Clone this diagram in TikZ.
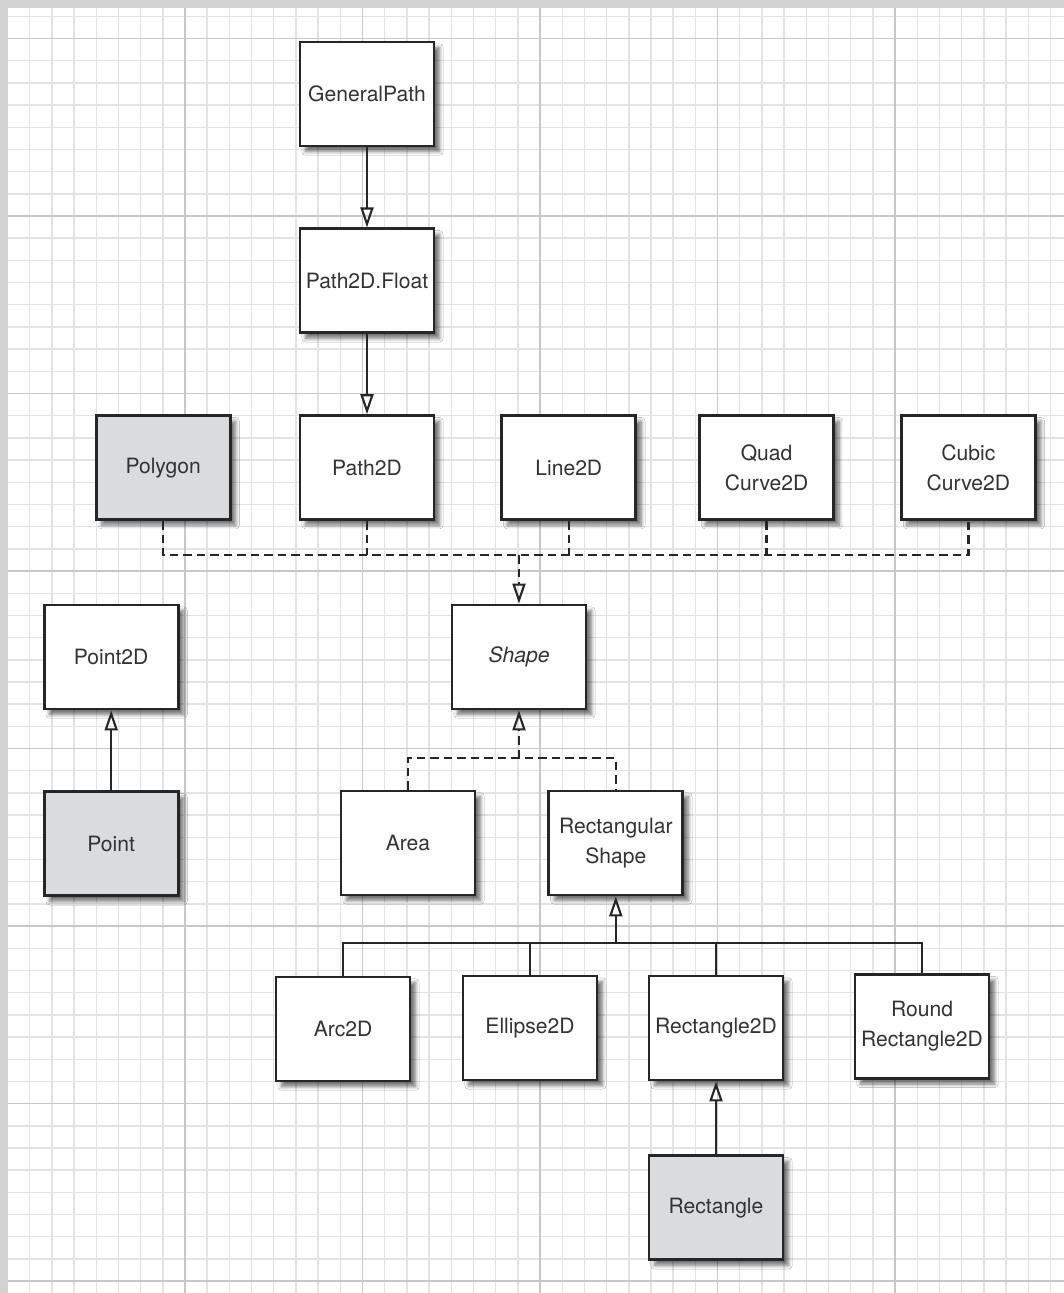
\documentclass[tikz,border=0pt]{standalone}
\usepackage{fontspec}
\setmainfont{TeX Gyre Heros}
\usetikzlibrary{positioning, arrows.meta, shadows.blur}
\definecolor{pagegrey}{HTML}{D2D2D2}
\definecolor{minorgrid}{HTML}{E3E3E3}
\definecolor{majorgrid}{HTML}{C8C8C8}
\definecolor{awtgrey}{HTML}{DADBDD}
\tikzstyle{box}=[draw=black!85, line width=1.6pt, fill=white, align=center,
                 text=black!80, font=\fontsize{12}{17}\selectfont,
                 minimum width=2.68cm, minimum height=2.08cm, inner sep=2pt,
                 blur shadow={shadow xshift=1.1mm, shadow yshift=-1.1mm,
                              shadow blur steps=8, shadow opacity=55}]
\tikzstyle{old}=[box, fill=awtgrey]
\tikzstyle{ln}=[line width=1.3pt, black!85]
\tikzstyle{dln}=[ln, dash pattern=on 1.7mm off 1mm]
\tikzstyle{ar}=[ln, -{Triangle[open, length=4mm, width=2.6mm, line width=1.2pt]}]
\tikzstyle{dar}=[ar, dash pattern=on 1.7mm off 1mm]

\begin{document}
\begin{tikzpicture}[node distance=1.6cm and 1.3cm]
    \useasboundingbox (0,0) rectangle (21.28,-25.86);
    % page and grid
    \fill[pagegrey] (0,0) rectangle (21.28,-25.86);
    \fill[white] (0.16,-0.16) rectangle (21.28,-25.86);
    \begin{scope}[shift={(3.70,-4.32)}]
      \draw[minorgrid, line width=0.8pt] (-3.54,-21.54) grid[step=0.4438cm] (17.58,4.16);
      \draw[majorgrid, line width=0.8pt] (-3.54,-21.54) grid[step=3.5504cm] (17.58,4.16);
    \end{scope}
    % upper chain
    \node[box] (gpath) at (7.34,-1.88) {GeneralPath};
    \node[box, below=of gpath] (pfloat) {Path2D.Float};
    \node[box, below=of pfloat] (ptwod) {Path2D};
    \node[old, left=1.34cm of ptwod] (polygon) {Polygon};
    \node[box, right=of ptwod] (line) {Line2D};
    \node[box, right=1.22cm of line] (quad) {Quad\\Curve2D};
    \node[box, right=of quad] (cubic) {Cubic\\Curve2D};
    % middle
    \node[box] (shape) at (10.38,-13.14) {\textit{Shape}};
    \node[box, left=5.42cm of shape] (ptwo) {Point2D};
    \node[old, below=of ptwo] (point) {Point};
    \node[box] (area) at (8.16,-16.86) {Area};
    \node[box, right=1.42cm of area] (rshape) {Rectangular\\Shape};
    % lower row
    \node[box] (arc) at (6.86,-20.58) {Arc2D};
    \node[box] (ellipse) at (10.6,-20.56) {Ellipse2D};
    \node[box] (rtwod) at (14.32,-20.56) {Rectangle2D};
    \node[box] (round) at (18.44,-20.53) {Round\\Rectangle2D};
    \node[old, below=1.46cm of rtwod] (rect) {Rectangle};
    % buses
    \coordinate (busa) at (0,-11.1);
    \coordinate (busb) at (0,-15.16);
    \coordinate (busc) at (0,-18.86);
    \draw[ar] (gpath) -- (pfloat);
    \draw[ar] (pfloat) -- (ptwod);
    \draw[dln] (polygon.south) -- (polygon.south |- busa) -- (cubic.south |- busa) -- (cubic.south);
    \draw[dln] (ptwod.south) -- (ptwod.south |- busa);
    \draw[dln] (line.south) -- (line.south |- busa);
    \draw[dln] (quad.south) -- (quad.south |- busa);
    \draw[dar] (shape.north |- busa) -- (shape.north);
    \draw[ar] (point) -- (ptwo);
    \draw[dln] (area.north) -- (area.north |- busb) -- (rshape.north |- busb) -- (rshape.north);
    \draw[dar] (shape.south |- busb) -- (shape.south);
    \draw[ln] (arc.north) -- (arc.north |- busc) -- (round.north |- busc) -- (round.north);
    \draw[ln] (ellipse.north) -- (ellipse.north |- busc);
    \draw[ln] (rtwod.north) -- (rtwod.north |- busc);
    \draw[ar] (rshape.south |- busc) -- (rshape.south);
    \draw[ar] (rect) -- (rtwod);
\end{tikzpicture}
\end{document}
